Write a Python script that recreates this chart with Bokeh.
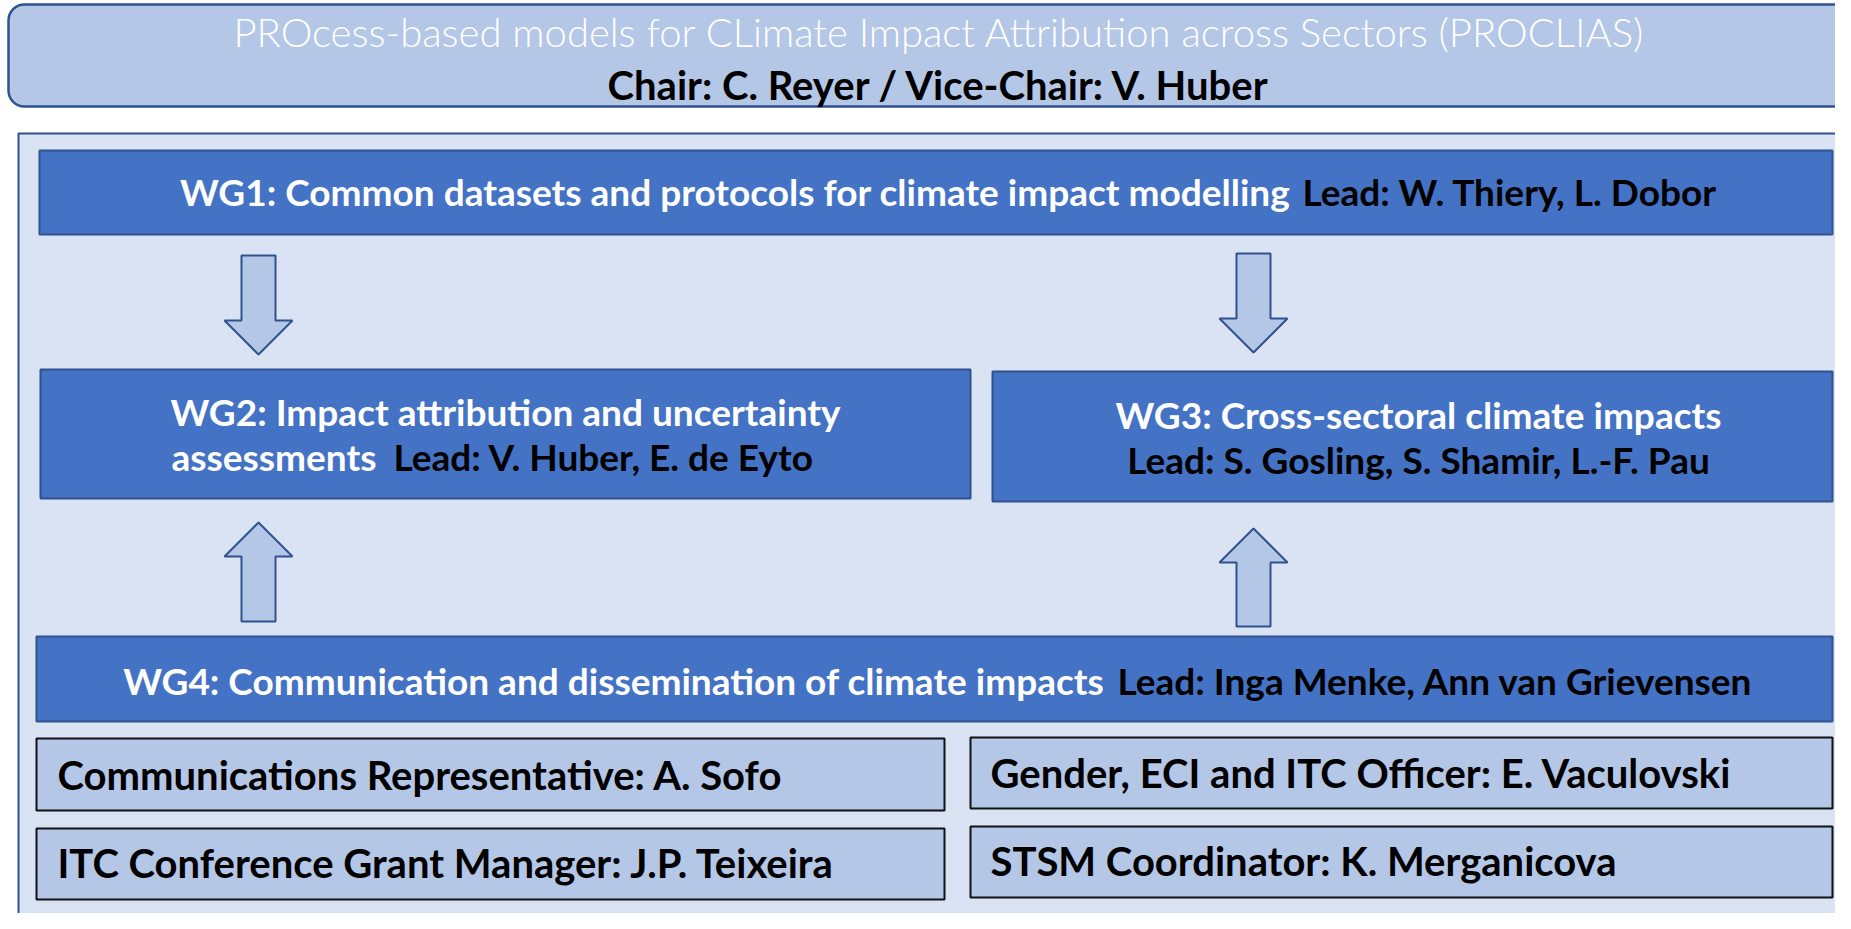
from bokeh.plotting import figure
from bokeh.models import Range1d, BoxAnnotation
from bokeh.core.properties import value
from bokeh.embed import file_html
from bokeh.resources import INLINE

# ---------------- content (texts) ----------------
title_line = "PROcess-based models for CLimate Impact Attribution across Sectors (PROCLIAS)"
chair_line = "Chair: C. Reyer / Vice-Chair: V. Huber"

wg1_white = "WG1: Common datasets and protocols for climate impact modelling"
wg1_black = "Lead: W. Thiery, L. Dobor"
wg2_white_1 = "WG2: Impact attribution and uncertainty"
wg2_white_2 = "assessments"
wg2_black = "Lead: V. Huber, E. de Eyto"
wg3_white = "WG3: Cross-sectoral climate impacts"
wg3_black = "Lead: S. Gosling, S. Shamir, L.-F. Pau"
wg4_white = "WG4: Communication and dissemination of climate impacts"
wg4_black = "Lead: Inga Menke, Ann van Grievensen"
roles = [
    "Communications Representative: A. Sofo",
    "Gender, ECI and ITC Officer: E. Vaculovski",
    "ITC Conference Grant Manager: J.P. Teixeira",
    "STSM Coordinator: K. Merganicova",
]

# ---------------- layout (screen pixel coordinates) ----------------
W, H = 1835, 913

DARK = "#4472C4"
EDGE = "#2F528F"
LIGHT = "#B4C7E7"
FRAME = "#DAE3F3"
FONT = value("Lato")

p = figure(width=W, height=H, output_backend="svg", toolbar_location=None,
           x_range=Range1d(0, W), y_range=Range1d(H, 0),
           min_border=0, outline_line_color=None)
p.axis.visible = False
p.grid.visible = False
p.background_fill_color = "white"
p.border_fill_color = "white"

RIGHT = W - 3  # right edge of the full-width boxes

# header box (rounded)
header = BoxAnnotation(left=8, right=W + 40, top=4, bottom=106,
                       fill_color=LIGHT, fill_alpha=1.0,
                       line_color=EDGE, line_width=2.5, line_alpha=1.0,
                       border_radius=16, level="underlay")
p.add_layout(header)

# outer frame
p.quad(left=[18], right=[W + 40], top=[133], bottom=[H + 40],
       fill_color=FRAME, line_color=EDGE, line_width=2)

# working group boxes
wg_left = [39, 40, 992, 36]
wg_right = [RIGHT, 970, RIGHT, RIGHT]
wg_top = [150, 369, 371, 636]
wg_bottom = [234, 498, 501, 721]
p.quad(left=wg_left, right=wg_right, top=wg_top, bottom=wg_bottom,
       fill_color=DARK, line_color=EDGE, line_width=2)

# role boxes
r_left = [36, 970, 36, 970]
r_right = [944, RIGHT, 944, RIGHT]
r_top = [738, 737, 828, 826]
r_bottom = [810, 808, 899, 897]
p.quad(left=r_left, right=r_right, top=r_top, bottom=r_bottom,
       fill_color=LIGHT, line_color="#111111", line_width=2)


def arrow(cx, tail, tip, shaft_w=34, head_w=68, head_len=34):
    d = 1 if tip > tail else -1
    base = tip - d * head_len
    xs = [cx - shaft_w / 2, cx + shaft_w / 2, cx + shaft_w / 2, cx + head_w / 2,
          cx, cx - head_w / 2, cx - shaft_w / 2]
    ys = [tail, tail, base, base, tip, base, base]
    return xs, ys


arrow_cx = [258, 1253, 258, 1253]
arrow_tail = [255, 253, 621, 626]
arrow_tip = [354, 352, 522, 528]
axs, ays = [], []
for cx, t0, t1 in zip(arrow_cx, arrow_tail, arrow_tip):
    xs, ys = arrow(cx, t0, t1)
    axs.append(xs)
    ays.append(ys)
p.patches(xs=axs, ys=ays, fill_color=LIGHT, line_color=EDGE, line_width=2)


# ---------------- texts ----------------
def txt(x, y, s, color, size, align="center", bold=True, font=FONT):
    p.text(x=[x], y=[y], text=[s], text_color=color, text_font=font,
           text_font_size=size, text_font_style="bold" if bold else "normal",
           text_align=align, text_baseline="middle")


txt(939, 31, title_line, "white", "40px", bold=False, font=value("Lato Light"))
txt(939, 84, chair_line, "black", "40px")

WGF = "37px"
txt(1290, 191, wg1_white, "white", WGF, align="right")
txt(1302, 191, wg1_black, "black", WGF, align="left")

txt(505, 411, wg2_white_1, "white", WGF)
txt(376, 456, wg2_white_2, "white", WGF, align="right")
txt(393, 456, wg2_black, "black", WGF, align="left")

txt(1418, 414, wg3_white, "white", WGF)
txt(1418, 459, wg3_black, "black", WGF)

txt(1104, 680, wg4_white, "white", WGF, align="right")
txt(1117, 680, wg4_black, "black", WGF, align="left")

role_x = [57, 990, 57, 990]
role_y = [774, 772, 862, 860]
p.text(x=role_x, y=role_y, text=roles, text_color="black", text_font=FONT,
       text_font_size="40px", text_font_style="bold",
       text_align="left", text_baseline="middle")

open("out.html", "w").write(file_html(p, INLINE))
